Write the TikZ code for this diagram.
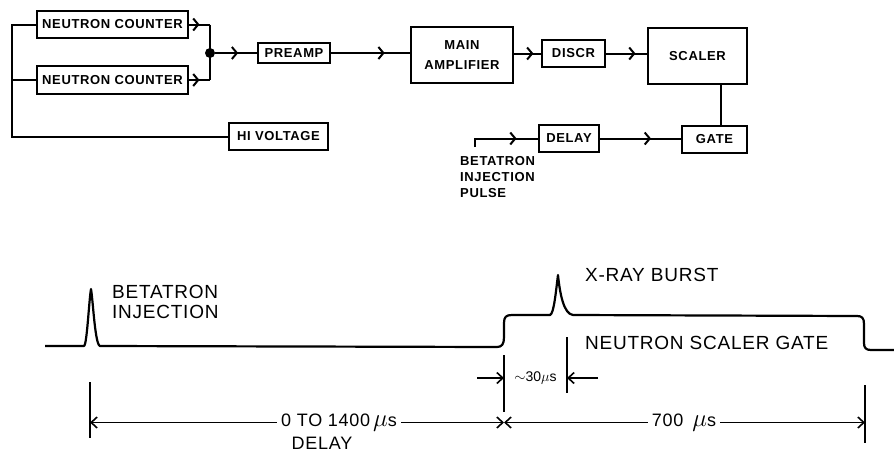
\documentclass[tikz,border=0pt]{standalone}
\usepackage{fontspec}
\setmainfont{Liberation Sans}
\newfontfamily\blkfont{Liberation Sans}[LetterSpace=5]
\newfontfamily\timfont{Liberation Sans}[LetterSpace=4]
\newcommand{\bigmu}{{\fontsize{23}{23}\selectfont$\mu$}}
\usetikzlibrary{arrows.meta, decorations.markings}

\begin{document}
\begin{tikzpicture}[
  x=1pt, y=-1pt,
  blk/.style={draw, line width=2pt, font=\blkfont\fontsize{13}{20}\selectfont\bfseries, align=center, inner sep=0pt},
  wire/.style={line width=2pt},
  midarrow/.style={wire, decoration={markings, mark=at position #1 with {\arrow[line width=2pt]{Straight Barb[length=5pt, width=12pt]}}}, postaction={decorate}},
  midarrow/.default=0.5,
  dot/.style={circle, fill, inner sep=0pt, minimum size=10pt},
  plabel/.style={font=\blkfont\fontsize{13}{16}\selectfont\bfseries, align=left, inner sep=0pt},
  sig/.style={line width=2.2pt, line join=round},
  dim/.style={line width=1.6pt},
  dimarrow/.style={dim, -{Straight Barb[length=6pt, width=11pt]}},
  tlabel/.style={font=\timfont\fontsize{19}{20}\selectfont, align=left, inner sep=0pt},
  dlabel/.style={font=\timfont\fontsize{18}{19}\selectfont, inner xsep=4pt, inner ysep=0pt},
  slabel/.style={font=\fontsize{14}{15}\selectfont, inner sep=0pt}
]
\useasboundingbox (0,0) rectangle (894,453);

% counting chain
\node[blk, minimum width=151pt, minimum height=27pt] (nc1) at (112.5,24.5) {NEUTRON COUNTER};
\node[blk, minimum width=151pt, minimum height=28pt] (nc2) at (112.5,80) {NEUTRON COUNTER};
\node[blk, minimum width=99pt, minimum height=27pt] (hv) at (278.5,136.5) {HI VOLTAGE};
\node[dot] (junc) at (210,53) {};
\node[blk, minimum width=72pt, minimum height=20pt] (preamp) at (294,53) {PREAMP};
\node[blk, minimum width=102pt, minimum height=56pt] (amp) at (462,55) {MAIN\\AMPLIFIER};
\node[blk, minimum width=63pt, minimum height=27pt] (discr) at (573.5,53.5) {DISCR};
\node[blk, minimum width=99pt, minimum height=56pt] (scaler) at (697.5,56) {SCALER};
\node[blk, minimum width=60pt, minimum height=27pt] (delay) at (569,138.5) {DELAY};
\node[blk, minimum width=65pt, minimum height=27pt] (gate) at (714.5,139.5) {GATE};
\node[plabel, anchor=north west] (injlbl) at (460,156) {BETATRON\\INJECTION\\PULSE};
\coordinate (inj) at (475,147);
\coordinate (busx) at (12,24.5);

\draw[wire] (nc1.west) -- (nc1.west -| busx) |- (hv.west);
\draw[wire] (nc2.west) -- (nc2.west -| busx);
\draw[midarrow=0.5] (nc1.east) -- (nc1.east -| junc);
\draw[midarrow=0.5] (nc2.east) -- (nc2.east -| junc);
\draw[wire] (nc1.east -| junc) -- (nc2.east -| junc);
\draw[midarrow=0.55] (junc) -- (preamp.west);
\draw[midarrow=0.68] (preamp.east) -- (preamp.east -| amp.west);
\draw[midarrow=0.72] (amp.east |- discr.west) -- (discr.west);
\draw[midarrow=0.72] (discr.east) -- (discr.east -| scaler.west);
\draw[wire] ([xshift=6.5pt]gate.north) -- ([xshift=6.5pt]gate.north |- scaler.south);
\draw[midarrow=0.63] (delay.east) -- (delay.east -| gate.west);
\draw[midarrow=0.7] (inj) |- (delay.west);

% timing
\draw[sig] (45,346) -- (84,346) .. controls (87,345) and (89,300) .. (91,289)
  .. controls (93,300) and (95,345) .. (100,346) -- (497,347)
  .. controls (502,347) and (504,344) .. (504,337) -- (504,323)
  .. controls (504,317) and (506,315) .. (512,315) -- (550,315)
  .. controls (554,314) and (556,290) .. (558,275)
  .. controls (560,295) and (564,314) .. (573,315) -- (857,316)
  .. controls (862,316) and (864,318) .. (864,324) -- (864,343)
  .. controls (864,348) and (866,350) .. (871,350) -- (894,350);

\node[tlabel, anchor=north west] (binj) at (112,285) {BETATRON\\INJECTION};
\node[tlabel, anchor=west] (xray) at (585,275) {X-RAY BURST};
\node[tlabel, anchor=west] (nsg) at (585,343) {NEUTRON SCALER GATE};

\coordinate (m1t) at (90,382);  \coordinate (m1b) at (90,438);
\coordinate (m2t) at (504,355); \coordinate (m2b) at (504,412);
\coordinate (m3t) at (567,337); \coordinate (m3b) at (567,393);
\coordinate (m4t) at (865,385); \coordinate (m4b) at (865,443);
\draw[dim] (m1t) -- (m1b);
\draw[dim] (m2t) -- (m2b);
\draw[dim] (m3t) -- (m3b);
\draw[dim] (m4t) -- (m4b);

\coordinate (m1d) at (90,422.5);
\coordinate (m2d) at (504,422.5);
\coordinate (m4d) at (865,422.5);
\node[dlabel] (d1400) at (339,422.5) {0 TO 1400\,\bigmu s};
\node[dlabel, anchor=north] (dly) at (322,437) {DELAY};
\node[dlabel] (d700) at (684,422.5) {700\enspace\bigmu s};
\draw[dimarrow] (d1400.west) -- (m1d);
\draw[dimarrow] (d1400.east) -- (m2d);
\draw[dimarrow] (d700.west) -- (m2d);
\draw[dimarrow] (d700.east) -- (m4d);

\coordinate (s30l) at (477,378);
\coordinate (s30r) at (598,378);
\coordinate (m2s) at (504,378);
\coordinate (m3s) at (567,378);
\node[slabel] (d30) at (535.5,378) {$\sim$30$\mu$s};
\draw[dimarrow] (s30l) -- (m2s);
\draw[dimarrow] (s30r) -- (m3s);
\end{tikzpicture}
\end{document}
